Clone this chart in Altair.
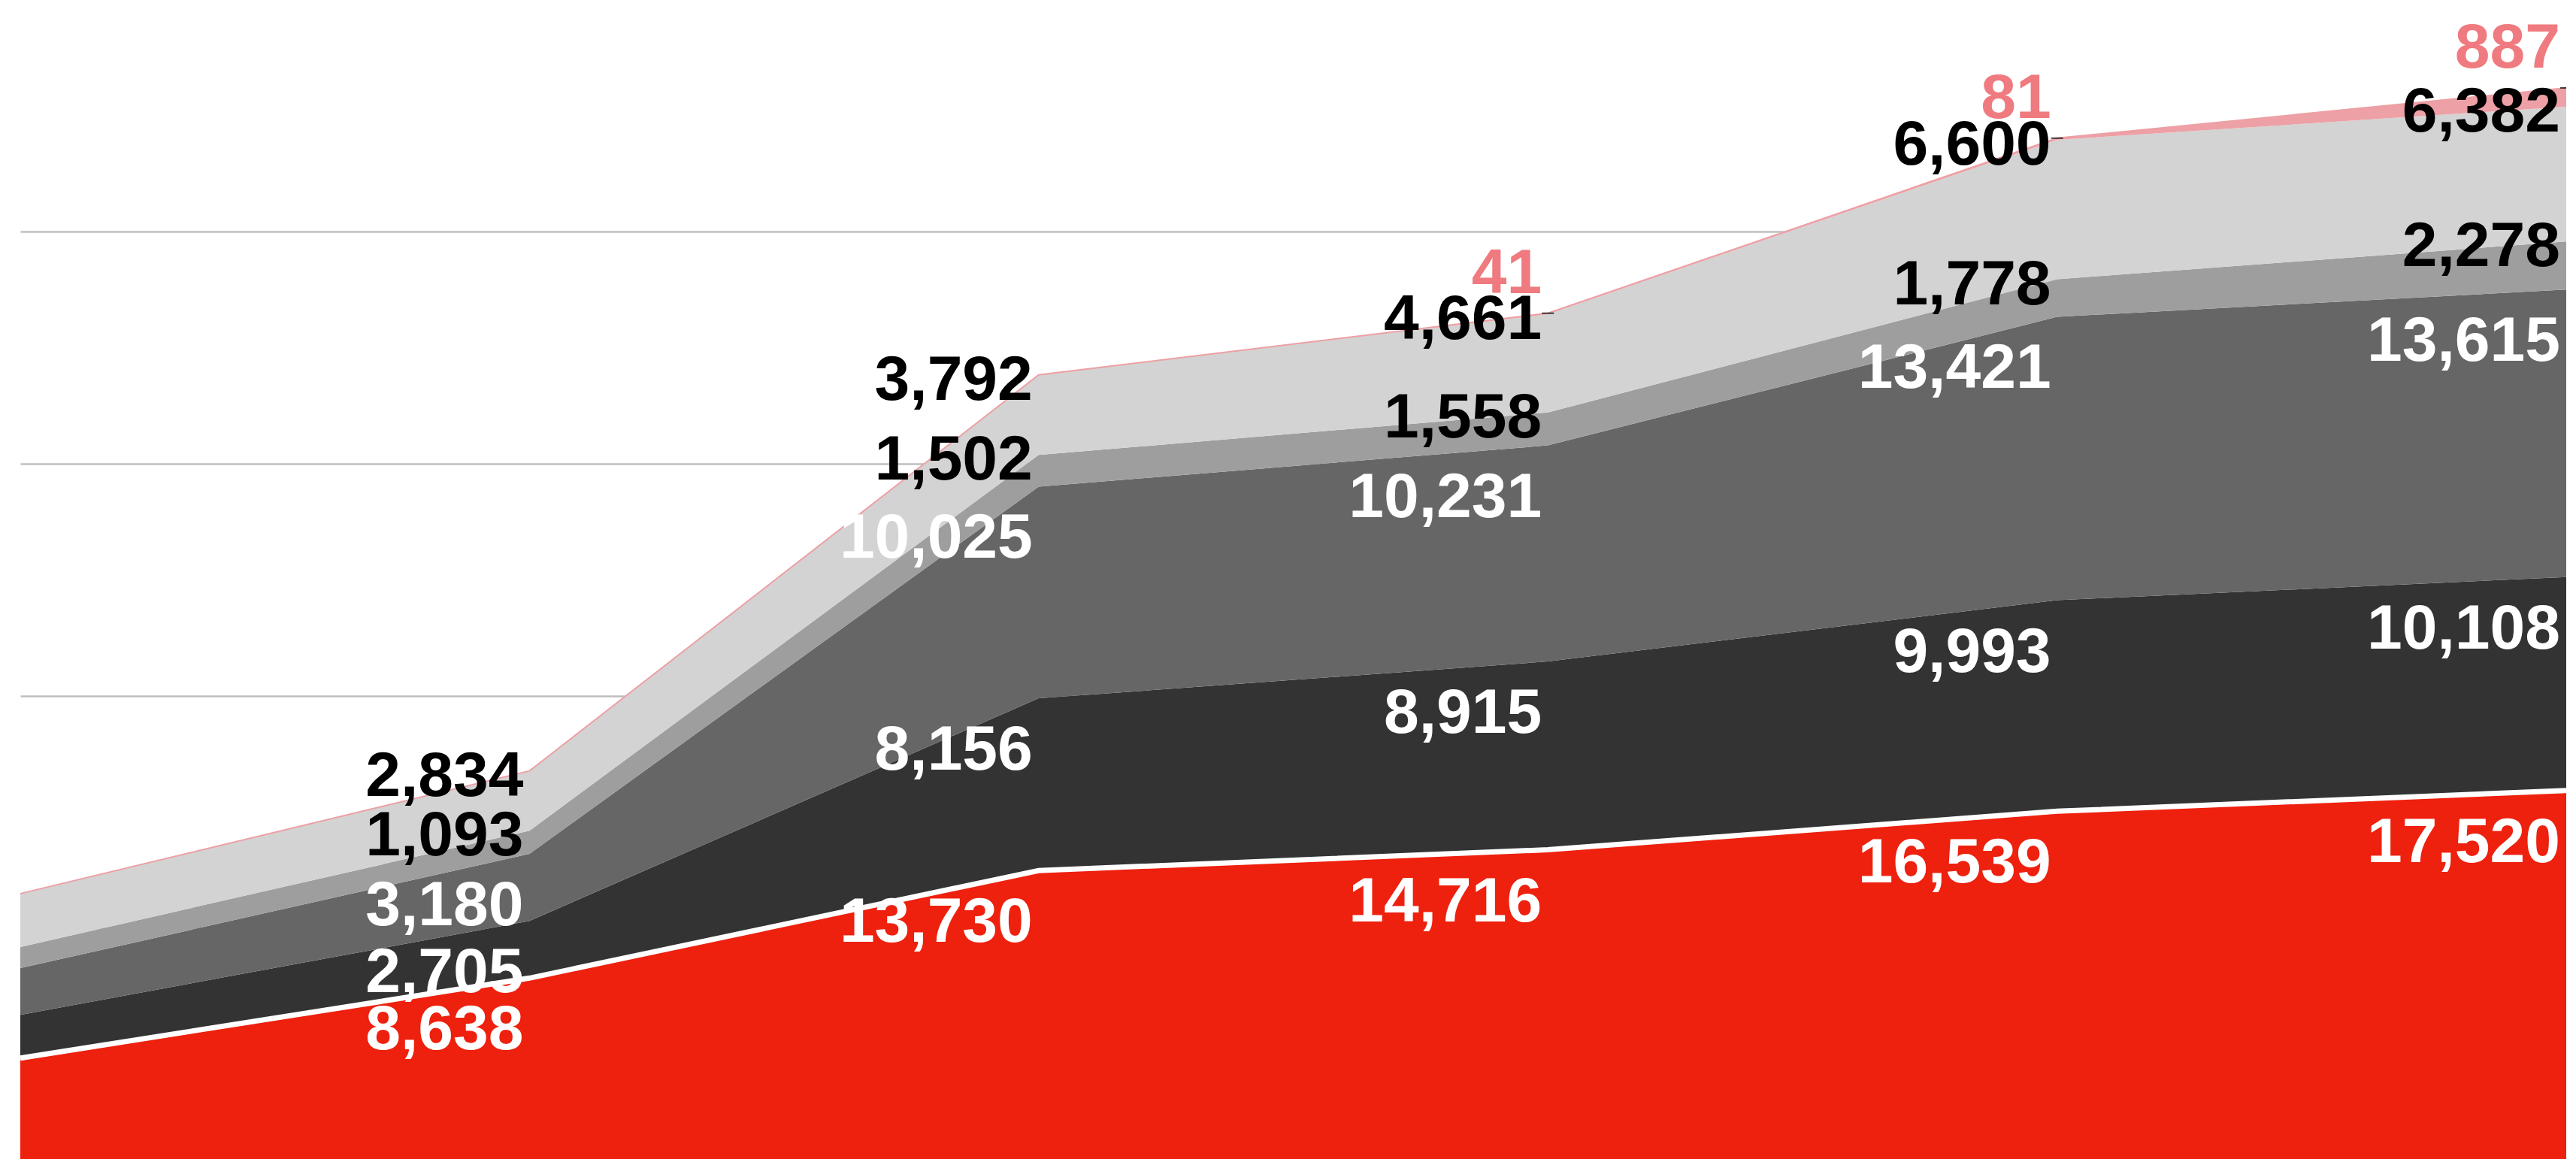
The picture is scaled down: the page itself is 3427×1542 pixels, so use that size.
import altair as alt
import pandas as pd

# ---- data ----
periods = [0, 1, 2, 3, 4, 5]
series_names = ["Red", "Black", "Dark grey", "Mid grey", "Light grey", "Pink"]
red = [4850, 8638, 13730, 14716, 16539, 17520]
black = [2050, 2705, 8156, 8915, 9993, 10108]
dark_grey = [2210, 3180, 10025, 10231, 13421, 13615]
mid_grey = [1000, 1093, 1502, 1558, 1778, 2278]
light_grey = [2530, 2834, 3792, 4661, 6600, 6382]
pink = [0, 0, 0, 41, 81, 887]
labelled = [False, True, True, True, True, True]

series_values = [red, black, dark_grey, mid_grey, light_grey, pink]
label_group = ["inner", "inner", "inner", "mid", "mid", "top"]
fill_colors = ["#ee200e", "#333333", "#666666", "#9e9e9e", "#d3d3d3", "#eda0a5"]

rows = []
for order, (name, vals, grp) in enumerate(zip(series_names, series_values, label_group)):
    for x, v, lab in zip(periods, vals, labelled):
        rows.append({"x": x, "series": name, "order": order, "value": v,
                     "group": grp, "show": bool(lab and v > 0)})
df = pd.DataFrame(rows)

YMAX = 54670
FONT = "Liberation Sans"
FS = 84

xenc = alt.X("x:Q", scale=alt.Scale(domain=[0, 5], nice=False, zero=False), axis=None)
yscale = alt.Scale(domain=[0, YMAX], nice=False, zero=True)
yaxis = alt.Axis(values=[11000, 22000, 33000, 44000], grid=True, labels=False,
                 ticks=False, domain=False, title=None,
                 gridColor="#bfbfbf", gridWidth=2.5)

base = alt.Chart(df).transform_stack(
    stack="value", groupby=["x"], sort=[alt.SortField("order")], as_=["y0", "y1"]
)

areas = base.mark_area(interpolate="linear").encode(
    x=xenc,
    y=alt.Y("y1:Q", scale=yscale, axis=yaxis),
    y2="y0:Q",
    color=alt.Color("series:N", scale=alt.Scale(domain=series_names, range=fill_colors), legend=None),
)

red_top = base.transform_filter("datum.series == 'Red'").mark_line(
    color="white", strokeWidth=7
).encode(x=xenc, y=alt.Y("y1:Q", scale=yscale))

pink_top = base.transform_filter("datum.series == 'Pink'").mark_line(
    color="#eda0a5", strokeWidth=2
).encode(x=xenc, y=alt.Y("y1:Q", scale=yscale))

leaders = base.transform_filter("datum.series == 'Pink' && datum.show").mark_tick(
    orient="horizontal", size=16, thickness=2, color="black"
).encode(x=xenc, y=alt.Y("y1:Q", scale=yscale))


def labels(group, color, dy):
    return base.transform_filter(f"datum.show && datum.group == '{group}'").mark_text(
        align="right", baseline="alphabetic", dx=-8, dy=dy,
        font=FONT, fontSize=FS, fontWeight="bold", color=color
    ).encode(x=xenc, y=alt.Y("y1:Q", scale=yscale), text=alt.Text("value:Q", format=",d"))


chart = alt.layer(
    areas, red_top, pink_top, leaders,
    labels("inner", "white", 95),
    labels("mid", "black", 33),
    labels("top", "#ef7a7f", -27),
).properties(
    width=3387, height=1536,
    padding={"left": 19, "top": 0, "right": 0, "bottom": 0},
    autosize=alt.AutoSizeParams(type="none"),
    background="white",
).configure_view(strokeWidth=0)

chart.save("out.html", embed_options={"renderer": "svg", "actions": False})
